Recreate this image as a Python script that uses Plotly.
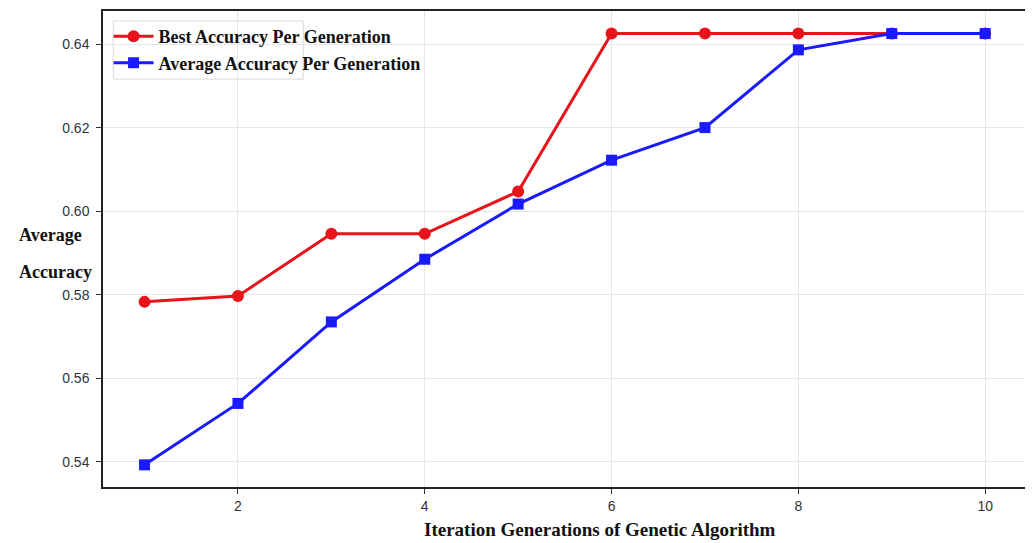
import plotly.graph_objects as go

generations = [1, 2, 3, 4, 5, 6, 7, 8, 9, 10]
best_acc = [0.5783, 0.5797, 0.5946, 0.5946, 0.6047, 0.6425, 0.6425, 0.6425, 0.6425, 0.6425]
avg_acc = [0.5393, 0.5540, 0.5735, 0.5885, 0.6017, 0.6122, 0.6200, 0.6386, 0.6425, 0.6425]
x_ticks = [2, 4, 6, 8, 10]
y_ticks = [0.54, 0.56, 0.58, 0.60, 0.62, 0.64]

fig = go.Figure()
fig.add_trace(go.Scatter(x=generations, y=best_acc, mode="lines+markers",
                         name="<b>Best Accuracy Per Generation</b>",
                         line=dict(color="#e8141b", width=3),
                         marker=dict(symbol="circle", size=12, color="#e8141b")))
fig.add_trace(go.Scatter(x=generations, y=avg_acc, mode="lines+markers",
                         name="<b>Average Accuracy Per Generation</b>",
                         line=dict(color="#1a1aff", width=3),
                         marker=dict(symbol="square", size=11, color="#1a1aff")))

axis_common = dict(showline=True, linecolor="#222", linewidth=1.5, mirror=True,
                   showgrid=True, gridcolor="#e6e6e6", gridwidth=1,
                   ticks="outside", ticklen=5, tickcolor="#333",
                   tickfont=dict(family="Liberation Sans, Arial", size=14, color="#333"),
                   zeroline=False, automargin=False)

serif = "Liberation Serif, Times New Roman"

fig.update_layout(
    width=1033, height=543,
    paper_bgcolor="white", plot_bgcolor="white",
    margin=dict(l=95, r=11, t=3, b=64),
    xaxis=dict(range=[0.555, 10.48], tickvals=x_ticks, **axis_common),
    yaxis=dict(range=[0.534, 0.6479], tickvals=y_ticks, tickformat=".2f",
               ticklabelstandoff=4, **axis_common),
    legend=dict(x=0.006, y=0.985, xanchor="left", yanchor="top",
                bgcolor="rgba(0,0,0,0)", borderwidth=0,
                font=dict(family=serif, size=18, color="#111"),
                tracegroupgap=0, itemwidth=40),
    showlegend=True,
)
# legend frame as in the reference (narrower than its text)
fig.add_shape(type="rect", xref="paper", yref="paper",
              x0=0.011, x1=0.216, y0=0.857, y1=0.979,
              line=dict(color="#d8d8d8", width=1), fillcolor="rgba(255,255,255,0.85)",
              layer="below")
fig.add_annotation(text="<b>Iteration Generations of Genetic Algorithm</b>",
                   xref="paper", yref="paper", x=0.536, y=-0.090,
                   xanchor="center", yanchor="middle", showarrow=False,
                   font=dict(family=serif, size=19, color="#111"))
fig.add_annotation(text="<b>Average</b>", xref="paper", yref="paper",
                   x=-0.093, y=0.529, xanchor="left", yanchor="middle", showarrow=False,
                   font=dict(family=serif, size=18, color="#111"))
fig.add_annotation(text="<b>Accuracy</b>", xref="paper", yref="paper",
                   x=-0.093, y=0.452, xanchor="left", yanchor="middle", showarrow=False,
                   font=dict(family=serif, size=18, color="#111"))

fig.write_html("out.html")
